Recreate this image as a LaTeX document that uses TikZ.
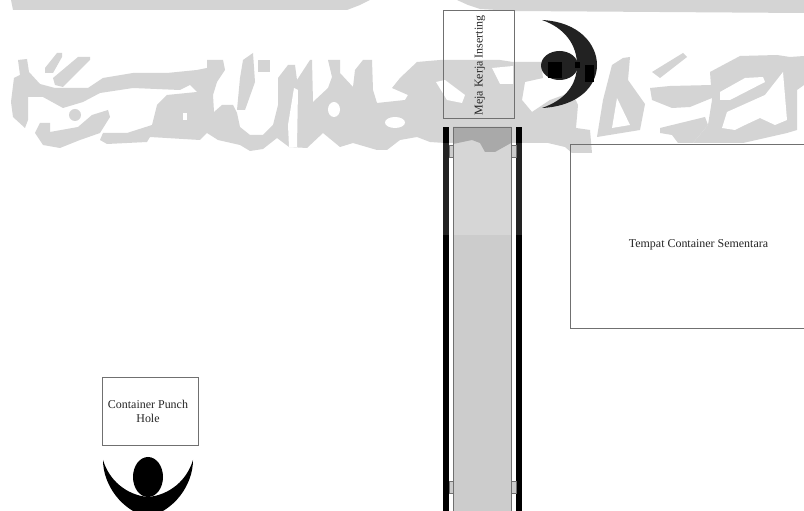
\documentclass[tikz,border=0pt]{standalone}
\usepackage{fontspec}
\setmainfont{Liberation Serif}
\usepackage{tikz}
\definecolor{markGray}{HTML}{D4D4D4}
\definecolor{lineGray}{HTML}{707070}
\definecolor{beltGray}{HTML}{CCCCCC}
\definecolor{beltLight}{HTML}{D6D6D6}
\definecolor{beltDark}{HTML}{A9A9A9}
\definecolor{figDark}{HTML}{222222}

\begin{document}
\begin{tikzpicture}[x=0.025cm,y=-0.025cm,font=\fontsize{8.5pt}{10pt}\selectfont,
    wm/.style={fill=markGray,draw=none},
    wmhole/.style={fill=white,draw=none},
    station/.style={draw=lineGray,line width=0.7pt,inner sep=0pt,outer sep=0pt},
    stationlabel/.style={inner sep=0pt,align=center,text=black!85},
    belt/.style={draw=lineGray,line width=0.7pt},
    crescent/.style={fill=black,draw=none}]

  \clip (0,0) rectangle (804,511);
  \fill[white] (0,0) rectangle (804,511);

  % watermark
  \fill[wm] (11,0) -- (13,10) -- (347,10) -- (360,5) -- (370,0) -- cycle;
  \fill[wm] (457,0) -- (468,5) -- (480,9) -- (514,11) -- (804,13) -- (804,0) -- cycle;
  \fill[wm] (45,68) -- (57,53) -- (62,53) -- (62,57) -- (53,73) -- (45,73) -- cycle;
  \fill[wm] (53,78) -- (78,57) -- (90,57) -- (90,60) -- (63,87) -- (55,85) -- cycle;
  \fill[wm] (75,115) circle (6);
  \fill[wm] (35,133) -- (40,123) -- (50,123) -- (50,132) -- (78,127) -- (92,115) -- (108,110)
    -- (110,117) -- (100,133) -- (80,140) -- (60,148) -- (43,145) -- cycle;
  \fill[wm] (243,60) -- (253,53) -- (255,82) -- (245,110) -- (237,110) -- (240,78) -- cycle;
  \fill[wm] (258,60) rectangle (270,72);
  \fill[wm] (11,102) -- (14,78) -- (20,75) -- (18,60) -- (27,59) -- (29,72) -- (40,84) -- (55,88)
    -- (88,88) -- (103,78) -- (133,73) -- (167,73) -- (197,70) -- (207,68) -- (207,60) -- (223,60)
    -- (225,70) -- (217,82) -- (213,95) -- (214,112) -- (222,105) -- (233,105) -- (237,113)
    -- (240,127) -- (250,135) -- (263,135) -- (273,125) -- (278,105) -- (278,78) -- (288,65)
    -- (295,65) -- (297,80) -- (310,60) -- (312,60) -- (313,102) -- (328,88) -- (332,77)
    -- (328,60) -- (340,60) -- (340,73) -- (353,87) -- (355,70) -- (363,60) -- (372,60)
    -- (373,90) -- (377,103) -- (405,100) -- (408,95) -- (392,88) -- (400,78) -- (417,62)
    -- (440,60) -- (500,60) -- (513,62) -- (541,62) -- (543,78) -- (525,82) -- (522,100)
    -- (532,112) -- (550,100) -- (572,92) -- (578,105) -- (576,128) -- (590,130) -- (592,153)
    -- (572,153) -- (565,147) -- (548,143) -- (510,143) -- (495,152) -- (485,152) -- (472,143)
    -- (445,143) -- (430,142) -- (417,137) -- (400,140) -- (387,150) -- (377,150) -- (353,143)
    -- (340,147) -- (323,133) -- (307,148) -- (289,147) -- (277,138) -- (263,149) -- (250,151)
    -- (240,145) -- (218,140) -- (207,133) -- (200,140) -- (150,137) -- (147,142) -- (107,144)
    -- (100,140) -- (103,133) -- (127,133) -- (152,125) -- (157,105) -- (167,95) -- (197,92)
    -- (190,85) -- (180,90) -- (133,88) -- (100,93) -- (83,102) -- (63,108) -- (43,97) -- (28,97)
    -- (28,120) -- (25,128) -- (13,117) -- cycle;
  \fill[wm] (612,65) -- (623,58) -- (630,57) -- (628,80) -- (645,104) -- (640,130) -- (597,137)
    -- (603,100) -- cycle;
  \fill[wm] (652,72) -- (683,53) -- (687,57) -- (660,78) -- cycle;
  \fill[wm] (650,88) -- (670,86) -- (712,85) -- (712,98) -- (690,107) -- (672,108) -- (652,100) -- cycle;
  \fill[wm] (660,128) -- (705,117) -- (708,125) -- (693,143) -- (678,143) -- (672,135) -- (660,133) -- cycle;
  \fill[wm] (693,143) -- (708,125) -- (712,100) -- (710,72) -- (740,56) -- (777,55) -- (790,57)
    -- (804,56) -- (804,85) -- (797,90) -- (797,130) -- (787,133) -- (743,143) -- cycle;
  \fill[wmhole] (294,88) -- (298,90) -- (297,147) -- (289,147) -- (288,125) -- cycle;
  \fill[wmhole] (183,113) rectangle (187,120);
  \fill[wmhole] (334,109.5) ellipse (6 and 7.5);
  \fill[wmhole] (395,122.5) ellipse (10 and 5.5);
  \fill[wmhole] (436,82) -- (445,80) -- (465,95) -- (462,103) -- (447,100) -- cycle;
  \fill[wmhole] (492,68) -- (513,66) -- (513,84) -- (500,84) -- cycle;
  \fill[wmhole] (617,98) -- (630,125) -- (612,128) -- cycle;
  \fill[wmhole] (720,92) -- (745,78) -- (763,77) -- (765,82) -- (730,100) -- (720,100) -- cycle;
  \fill[wmhole] (722,128) -- (727,112) -- (765,95) -- (783,72) -- (787,120) -- (775,125)
    -- (760,118) -- (745,125) -- (735,130) -- cycle;

  % conveyor
  \foreach \xa/\xb in {443/449,516/522} {
    \fill[black] (\xa,127) rectangle (\xb,511);
    \fill[figDark] (\xa,143) rectangle (\xb,235);
  }
  \foreach \ya/\yb in {145/157,481/493} {
    \draw[belt,fill=beltGray] (449,\ya) rectangle (453,\yb);
    \draw[belt,fill=beltGray] (511,\ya) rectangle (516,\yb);
  }
  \fill[beltGray] (453,235) rectangle (511,511);
  \fill[beltLight] (453,127) rectangle (511,235);
  \fill[beltDark] (453,127) -- (511,127) -- (511,143) -- (495,152) -- (485,152) -- (480,143)
    -- (472,140) -- (453,144) -- cycle;
  \draw[belt] (453,520) -- (453,127) -- (511,127) -- (511,520);

  \node[station,minimum width=1.775cm,minimum height=2.675cm] (meja) at (478.5,64.5) {};
  \node[stationlabel,rotate=90] (mejalabel) at (480,65.5) {Meja Kerja Inserting};
  \node[station,minimum width=6.35cm,minimum height=4.575cm] (tempat) at (698,236.5) {};
  \node[stationlabel] (tempatlabel) at (698.5,244.5) {Tempat Container Sementara};
  \node[station,minimum width=2.375cm,minimum height=1.675cm] (punch) at (150.5,411.5) {};
  \node[stationlabel] (punchlabel) at (148,411) {Container Punch\\Hole};

  % operator at the inserting table
  \fill[figDark] (542,20) .. controls (580,22) and (597,45) .. (597,65)
    .. controls (597,85) and (580,106) .. (542,108)
    .. controls (565,100) and (577,85) .. (577,65)
    .. controls (577,45) and (565,28) .. (542,20) -- cycle;
  \fill[figDark] (559.5,65.5) ellipse (18.5 and 14.5);
  \fill[black] (548,62) rectangle (562,78);
  \fill[black] (575,62) rectangle (580,68);
  \fill[black] (585,65) rectangle (594,82);

  % operator at the punch hole
  \fill[crescent] (103,460) .. controls (103,485) and (122,511) .. (148,517)
    .. controls (174,511) and (193,485) .. (193,460)
    .. controls (187,480) and (170,495) .. (148,497)
    .. controls (126,495) and (109,480) .. (103,460) -- cycle;
  \fill[crescent] (148,477) ellipse (15 and 20);
\end{tikzpicture}
\end{document}
